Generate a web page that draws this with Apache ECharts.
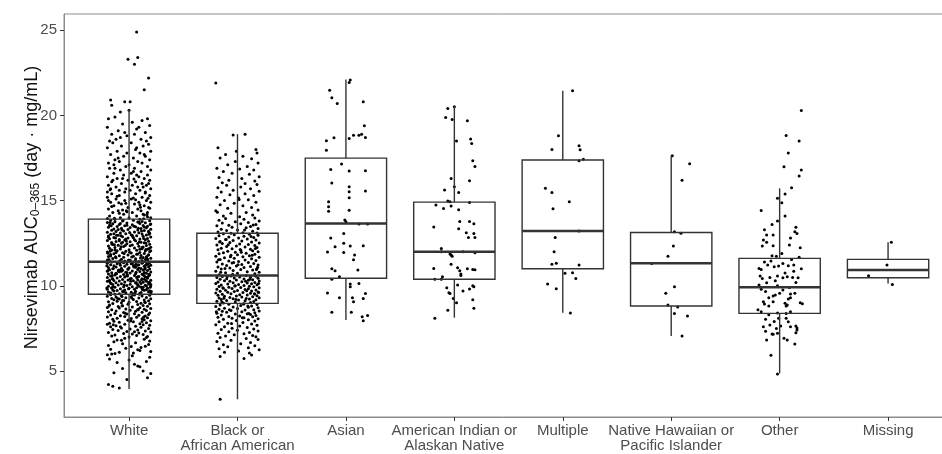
<!DOCTYPE html>
<html><head><meta charset="utf-8">
<script src="https://cdn.jsdelivr.net/npm/echarts@6/dist/echarts.min.js"></script>
<style>html,body{margin:0;padding:0;background:#fff}#c{width:942px;height:454px}</style>
</head><body><div id="c"></div>
<script>
const categories = ["White","Black or\nAfrican American","Asian","American Indian or\nAlaskan Native","Multiple","Native Hawaiian or\nPacific Islander","Other","Missing"];
const yTicks = [5,10,15,20,25];
// box statistics per category
const whiskerLow  = [3.94, 3.34, 7.99, 8.13, 8.42, 7.05, 4.86, 10.14];
const q1          = [9.50, 8.97, 10.44, 10.38, 11.00, 8.81, 8.38, 10.47];
const median      = [11.41, 10.61, 13.66, 12.00, 13.21, 11.32, 9.91, 10.92];
const q3          = [13.91, 13.08, 17.49, 14.91, 17.38, 13.13, 11.61, 11.55];
const whiskerHigh = [20.31, 18.90, 22.11, 20.54, 21.44, 17.63, 15.72, 12.55];

// jittered points: [horizontal jitter (category units), value]
const whitePts = [
[.07,24.9],[-.01,23.3],[.08,23.4],[.05,23.0],[.18,22.2],[.14,21.5],[-.17,20.9],[-.16,20.6],[-.04,20.8],[.01,20.8],[-.08,20.2],[0,20.3],
[-.19,19.8],[-.13,19.9],[.12,19.7],[.17,19.8],[-.06,19.5],[.03,19.6],[-.2,19.3],[.09,19.3],[.19,19.4],[-.1,19.1],[.15,19.0],[-.16,18.9],[.05,18.9],[-.02,18.8],[.2,18.7],[-.12,18.6],[.11,18.6],[-.18,18.5],[.07,19.2],[-.04,19.0],[.16,18.5],[-.08,18.7],
[-.15,18.4],[.02,18.4],[.18,18.3],[-.07,18.2],[.13,18.2],[-.2,18.1],[.06,18.0],[-.11,17.9],[.2,17.9],[-.02,17.8],[.1,17.8],[-.17,17.7],[.15,17.6],[-.05,17.6],[.04,17.5],[-.13,17.4],[.19,17.4],[-.09,17.3],[.08,17.3],[-.19,17.2],[.12,17.2],[0,17.1],[-.14,17.1],[.17,17.0],[-.03,17.0],[.07,18.1],[-.1,17.5],[.14,17.7],
[-.18,16.9],[.05,16.9],[.2,16.8],[-.08,16.8],[.11,16.7],[-.14,16.6],[.02,16.6],[.17,16.5],[-.05,16.5],[-.2,16.4],[.09,16.4],[-.11,16.3],[.14,16.3],[-.01,16.2],[.19,16.2],[-.16,16.1],[.06,16.1],[-.07,16.0],[.12,16.0],[-.19,15.9],[.03,15.9],[.16,15.9],[-.12,15.8],[.08,15.8],[-.03,15.7],[.2,15.7],[-.17,15.7],[.1,15.6],[-.09,15.6],[.15,15.5],[-.04,15.5],[-.2,15.5],[.04,16.7],[-.13,16.9],[.18,16.0],[-.06,16.3],[.13,15.8],[-.15,16.2],[.01,15.6],[.07,16.5],
[-.16,15.4],[.06,15.4],[.19,15.3],[-.09,15.3],[.12,15.2],[-.2,15.2],[.02,15.1],[-.12,15.1],[.16,15.0],[-.04,15.0],[.09,14.9],[-.17,14.9],[.2,14.9],[-.07,14.8],[.05,14.8],[.14,14.7],[-.14,14.7],[-.01,14.6],[.18,14.6],[-.19,14.5],[.08,14.5],[-.1,14.4],[.11,14.4],[.03,14.3],[-.15,14.3],[.17,14.3],[-.05,14.2],[.13,14.2],[-.18,14.1],[.07,14.1],[-.08,14.0],[.2,14.0],[0,14.0],[-.13,13.9],[.1,13.9],[-.2,13.95],[.15,15.45],[-.11,15.25],[.04,15.15],[-.03,14.85],[.19,14.55],[-.16,14.65],[.1,14.75],[-.06,14.45],[.14,14.15],[-.02,14.35],[.06,15.05],[-.19,15.0],[.17,14.05],[-.09,14.25],
[-.17,13.85],[.04,13.84],[.19,13.82],[-.06,13.8],[.12,13.78],[-.13,13.76],[.08,13.74],[-.2,13.72],[.15,13.7],[-.02,13.68],
[.1,13.66],[-.15,13.64],[.2,13.62],[-.09,13.6],[.03,13.58],[-.18,13.56],[.13,13.54],[-.04,13.52],[.17,13.5],[-.11,13.48],
[.06,13.46],[-.19,13.44],[.01,13.42],[.16,13.4],[-.07,13.38],[.11,13.36],[-.14,13.34],[.2,13.32],[-.01,13.3],[.08,13.28],
[-.16,13.26],[.14,13.24],[-.05,13.22],[.18,13.2],[-.12,13.18],[.05,13.16],[-.2,13.14],[.09,13.12],[-.08,13.1],[.19,13.08],
[-.03,13.06],[.12,13.04],[-.17,13.02],[.02,13.0],[.16,12.98],[-.1,12.96],[.07,12.94],[-.19,12.92],[.13,12.9],[-.06,12.88],
[.2,12.86],[-.14,12.84],[.04,12.82],[-.01,12.8],[.17,12.78],[-.18,12.76],[.1,12.74],[-.09,12.72],[.15,12.7],[-.04,12.68],
[-.2,12.66],[.06,12.64],[.18,12.62],[-.12,12.6],[.01,12.58],[.11,12.56],[-.16,12.54],[.14,12.52],[-.07,12.5],[.08,12.48],
[-.02,12.46],[.19,12.44],[-.15,12.42],[.03,12.4],[-.1,12.38],[.16,12.36],[-.19,12.34],[.09,12.32],[-.05,12.3],[.13,12.28],
[.2,12.26],[-.13,12.24],[.05,12.22],[-.18,12.2],[.12,12.18],[-.08,12.16],[.17,12.14],[0,12.12],[-.16,12.1],[.07,12.08],
[-.11,12.06],[.15,12.04],[-.03,12.02],[.19,12.0],[-.2,11.98],[.1,11.96],[-.06,11.94],[.02,11.92],[.14,11.9],[-.14,11.88],
[.08,11.86],[-.17,11.84],[.18,11.82],[-.01,11.8],[.11,11.78],[-.09,11.76],[.04,11.74],[-.19,11.72],[.16,11.7],[-.05,11.68],
[.13,11.66],[-.12,11.64],[.2,11.62],[-.15,11.6],[.06,11.58],[-.07,11.56],[.17,11.54],[-.2,11.52],[.01,11.5],[.12,11.48],
[-.04,11.46],[-.18,11.44],[.09,11.42],[.19,11.4],[-.1,13.3],[.05,12.7],[-.13,12.1],[.15,11.55],[-.08,13.65],[.03,12.95],
[.18,13.15],[-.16,12.45],[.07,11.85],[-.02,13.55],[.12,12.25],[-.19,12.85],[.16,11.65],[-.06,12.55],[.09,13.75],[-.12,11.95],
[.01,12.35],[.2,12.05],[-.14,13.05],[.06,11.45],[-.09,12.65],[.14,13.45],[-.17,11.75],[.1,12.15],[-.03,12.75],[.17,11.55],
[-.16,11.39],[.07,11.38],[.19,11.36],[-.05,11.35],[.12,11.33],[-.2,11.32],[.02,11.3],[-.11,11.29],[.16,11.27],[-.02,11.26],
[.09,11.24],[-.17,11.23],[.2,11.21],[-.08,11.2],[.04,11.18],[-.14,11.17],[.14,11.15],[-.04,11.14],[.18,11.12],[-.12,11.11],
[.06,11.09],[-.19,11.08],[0,11.06],[.15,11.05],[-.07,11.03],[.11,11.02],[-.15,11.0],[.19,10.99],[-.01,10.97],[.08,10.96],
[-.18,10.94],[.13,10.93],[-.06,10.91],[.17,10.9],[-.1,10.88],[.03,10.87],[-.2,10.85],[.1,10.84],[-.09,10.82],[.2,10.81],
[-.03,10.79],[.14,10.78],[-.16,10.76],[.01,10.75],[.16,10.73],[-.12,10.72],[.06,10.7],[-.19,10.69],[.12,10.67],[-.05,10.66],
[.19,10.64],[-.13,10.63],[.05,10.61],[-.02,10.6],[.18,10.58],[-.17,10.57],[.09,10.55],[-.08,10.54],[.15,10.52],[-.04,10.51],
[-.2,10.49],[.07,10.48],[.17,10.46],[-.11,10.45],[.02,10.43],[.12,10.42],[-.15,10.4],[.14,10.39],[-.06,10.37],[.08,10.36],
[-.01,10.34],[.2,10.33],[-.14,10.31],[.04,10.3],[-.09,10.28],[.16,10.27],[-.18,10.25],[.1,10.24],[-.04,10.22],[.13,10.21],
[.19,10.19],[-.12,10.18],[.06,10.16],[-.17,10.15],[.11,10.13],[-.07,10.12],[.18,10.1],[.01,10.09],[-.15,10.07],[.08,10.06],
[-.1,10.04],[.15,10.03],[-.02,10.01],[.2,10.0],[-.19,9.98],[.09,9.97],[-.05,9.95],[.03,9.94],[.13,9.92],[-.13,9.91],
[.07,9.89],[-.16,9.88],[.17,9.86],[0,9.85],[.12,9.83],[-.08,9.82],[.05,9.8],[-.2,9.79],[.16,9.77],[-.04,9.76],
[.14,9.74],[-.11,9.73],[.19,9.71],[-.14,9.7],[.06,9.68],[-.06,9.67],[.18,9.65],[-.19,9.64],[.02,9.62],[.11,9.61],
[-.03,9.59],[-.17,9.58],[.1,9.56],[.2,9.55],[-.09,9.53],[.04,9.52],[-.13,9.51],[.15,11.19],[-.07,10.86],[.08,10.53],
[.18,10.2],[-.16,9.87],[.03,11.31],[-.01,10.98],[.13,10.65],[-.18,10.32],[.16,9.99],[-.05,9.66],[.09,11.05],[-.12,10.74],
[.01,10.41],[.2,10.08],[-.15,9.75],[.06,11.25],[-.08,10.92],[.14,10.59],[-.2,10.26],[.11,9.93],[-.02,10.78],[.17,10.45],
[-.17,9.48],[.05,9.46],[.19,9.44],[-.07,9.42],[.12,9.4],[-.2,9.38],[.02,9.36],[-.12,9.34],[.16,9.32],[-.03,9.3],
[.09,9.28],[-.16,9.26],[.2,9.24],[-.09,9.22],[.04,9.2],[-.14,9.18],[.14,9.16],[-.05,9.14],[.18,9.12],[-.11,9.1],
[.07,9.08],[-.19,9.06],[0,9.04],[.15,9.02],[-.07,9.0],[.11,8.98],[-.15,8.96],[.19,8.94],[-.01,8.92],[.08,8.9],
[-.18,8.87],[.13,8.85],[-.06,8.83],[.17,8.8],[-.1,8.78],[.03,8.76],[-.2,8.73],[.1,8.71],[-.09,8.69],[.2,8.66],
[-.03,8.64],[.14,8.62],[-.16,8.59],[.01,8.57],[.16,8.55],[-.12,8.52],[.06,8.5],[-.19,8.48],[.12,8.45],[-.05,8.43],
[.19,8.41],[-.13,8.38],[.05,8.36],[-.02,8.34],[.18,8.31],[-.17,8.29],[.09,8.27],[-.08,8.24],[.15,8.22],[-.04,8.2],
[-.2,8.17],[.07,8.15],[.17,8.13],[-.11,8.1],[.02,8.08],[.12,8.06],[-.15,8.03],[.14,8.01],[-.06,9.13],[.08,8.61],
[-.01,7.98],[.2,7.95],[-.14,7.92],[.04,7.89],[-.09,7.86],[.16,7.83],[-.18,7.8],[.1,7.77],[-.04,7.74],[.13,7.71],
[.19,7.68],[-.12,7.65],[.06,7.62],[-.17,7.59],[.11,7.56],[-.07,7.53],[.18,7.5],[.01,7.47],[-.15,7.44],[.08,7.41],
[-.1,7.38],[.15,7.35],[-.02,7.32],[.2,7.29],[-.19,7.26],[.09,7.23],[-.05,7.2],[.03,7.17],[.13,7.14],[-.13,7.11],
[.07,7.08],[-.16,7.05],[.17,7.02],[0,7.0],[.12,7.9],[-.08,7.6],[.05,7.3],[-.2,7.75],
[.16,6.97],[-.04,6.92],[.14,6.87],[-.11,6.82],[.19,6.76],[-.14,6.71],[.06,6.66],[-.06,6.6],[.18,6.55],[-.19,6.5],
[.02,6.44],[.11,6.38],[-.03,6.33],[-.17,6.27],[.1,6.2],[.2,6.15],[-.09,6.1],[.04,6.05],[-.13,6.02],[.15,6.45],[-.07,6.8],[.08,6.25],
[-.19,4.2],[-.15,4.1],[-.09,4.0],[.17,4.6],[.08,5.3],[.1,5.25],[.05,5.4],[-.18,5.7],[-.14,4.9],[.19,5.8],[-.02,4.5],[.13,5.0],[-.11,5.5],[.03,5.9],[.16,5.55],[-.06,5.15],[-.2,5.95],[.2,4.85],[0,5.65],[-.16,6.0],
[.135,13.93],[-.175,13.71],[.045,13.49],[-.065,13.27],[.185,13.03],[-.125,12.81],[.095,12.59],[-.035,12.37],[.155,12.13],[-.195,11.91],
[.025,11.69],[-.085,11.47],[.175,11.27],[-.145,11.01],[.065,10.79],[-.015,10.57],[.115,10.35],[-.165,10.13],[.195,9.91],[-.055,9.69],
[.035,9.47],[-.105,9.25],[.145,9.03],[-.185,8.81],[.085,8.59],[-.025,14.41],[.165,14.19],[-.135,13.97],[.005,13.13],[-.075,12.29],
[.125,11.37],[-.155,10.43],[.055,9.59],[-.045,11.89],[.185,10.67],[-.115,12.97],[.075,10.11],[-.205,11.17],[.155,12.51],[-.005,9.83],
[-.095,10.93],[.105,11.63],[-.175,12.03],[.015,10.27],[.195,13.59],[-.065,9.37],[.135,12.77],[-.145,9.95],[.045,11.11],[-.025,12.63],
[.165,10.49],[-.185,11.55],[.085,13.37],[-.115,10.71],[.005,11.97],[.125,9.77],[-.055,13.83],[.175,11.79],[-.135,12.41],[.065,10.19],
[-.195,10.89],[.035,12.87],[.145,10.97],[-.085,11.33],[.095,9.51],[-.015,10.63],[.185,12.19],[-.165,13.53],[.055,11.43],[-.045,10.05],
[.115,13.21],[-.205,9.87],[.025,9.29],[-.125,11.71],[.155,10.31],[-.075,12.93],[.075,11.21],[.205,9.67],[-.155,10.61],[-.005,11.51],
[.105,14.61],[-.095,14.87],[.175,15.13],[-.175,15.63],[.045,16.27],[-.035,8.39],[.135,8.17],[-.145,7.71],[.015,7.93],[-.065,8.83]
];
const blackPts = [
[-.2,21.9],[-.04,18.85],[.07,18.9],[-.18,18.1],[.17,18.0],[.18,17.8],
[-.11,17.7],[.05,17.6],[-.16,17.5],[.13,17.45],[-.02,17.3],[.19,17.2],[-.09,17.1],[.09,17.0],[-.19,16.9],[.02,16.85],[.15,16.8],[-.13,16.7],[-.05,16.6],[.11,16.55],[.2,16.4],[-.17,16.35],[.04,16.3],[-.08,16.2],[.16,16.15],[-.14,16.05],[.07,16.0],[-.01,17.9],
[.18,15.95],[-.1,15.9],[.03,15.8],[-.18,15.75],[.12,15.7],[-.04,15.6],[.2,15.55],[-.15,15.5],[.07,15.4],[-.07,15.35],[.15,15.3],[-.19,15.2],[.01,15.15],[.1,15.05],[-.12,15.0],[.17,14.9],[-.03,14.85],[-.16,14.75],[.05,14.7],[.13,14.6],[-.09,14.55],[.19,14.45],[-.2,14.4],[.08,14.3],[-.06,14.25],[.14,14.15],[-.13,14.1],[.02,14.05],
[.16,13.98],[-.11,13.95],[.06,13.9],[-.17,13.85],[.2,13.8],[-.02,13.76],[.1,13.72],[-.14,13.68],[.03,13.64],[.17,13.6],[-.08,13.56],[-.19,13.52],[.12,13.48],[-.05,13.44],[.08,13.4],[.19,13.36],[-.15,13.32],[0,13.28],[-.1,13.24],[.14,13.2],[-.18,13.16],[.05,13.12],[.18,13.1],[-.06,13.09],
[-.13,13.05],[.11,13.02],[-.03,12.99],[.19,12.96],[-.17,12.93],[.06,12.9],[-.08,12.87],[.15,12.84],[.01,12.81],[-.2,12.78],
[.09,12.75],[-.11,12.72],[.17,12.69],[-.04,12.66],[.04,12.63],[-.16,12.6],[.13,12.57],[-.07,12.54],[.2,12.51],[-.14,12.48],
[.02,12.45],[.1,12.42],[-.19,12.39],[.16,12.36],[-.01,12.33],[-.1,12.3],[.07,12.27],[.18,12.24],[-.15,12.21],[-.05,12.18],
[.12,12.15],[-.18,12.12],[.03,12.09],[.14,12.06],[-.09,12.03],[.19,12.0],[-.02,11.97],[-.13,11.94],[.08,11.91],[-.17,11.88],
[.16,11.85],[0,11.82],[-.06,11.79],[.11,11.76],[-.2,11.73],[.05,11.7],[.2,11.67],[-.12,11.64],[-.03,11.61],[.13,11.58],
[-.16,11.55],[.07,11.52],[.17,11.49],[-.08,11.46],[.01,11.43],[-.19,11.4],[.1,11.37],[-.05,11.34],[.15,11.31],[-.14,11.28],
[.04,11.25],[.19,11.22],[-.1,11.19],[-.01,11.16],[.12,11.13],[-.18,11.1],[.06,11.07],[-.07,11.04],[.18,11.01],[-.15,10.98],
[.03,10.95],[.14,10.92],[-.04,10.89],[-.2,10.86],[.09,10.83],[.2,10.8],[-.11,10.77],[0,10.74],[.16,10.7],[-.17,10.65],
[.08,10.6],[-.06,10.58],[.17,10.56],[-.14,10.54],[.02,10.52],[.12,10.5],[-.19,10.48],[-.03,10.46],[.19,10.44],[-.1,10.42],
[.06,10.4],[-.16,10.38],[.14,10.36],[-.01,10.34],[.1,10.32],[-.12,10.3],[.2,10.28],[-.07,10.26],[.04,10.24],[-.18,10.22],
[.16,10.2],[-.04,10.18],[.09,10.16],[-.2,10.14],[.13,10.12],[-.09,10.1],[.01,10.08],[.18,10.06],[-.15,10.04],[.06,10.02],
[-.02,10.0],[.11,9.98],[-.17,9.96],[.15,9.94],[-.08,9.92],[.03,9.9],[.2,9.88],[-.13,9.86],[-.05,9.84],[.1,9.82],
[-.19,9.8],[.07,9.78],[.17,9.76],[-.11,9.74],[0,9.72],[.13,9.7],[-.16,9.68],[-.03,9.66],[.19,9.64],[-.09,9.62],
[.05,9.6],[-.2,9.58],[.12,9.56],[-.06,9.54],[.16,9.52],[-.14,9.5],[.02,9.48],[.09,9.46],[-.18,9.44],[.18,9.42],
[-.01,9.4],[-.12,9.38],[.14,9.36],[.04,9.34],[-.07,9.32],[.2,9.3],[-.17,9.28],[.08,9.26],[-.04,9.24],[.11,9.22],
[-.15,9.2],[.17,9.18],[.01,9.16],[-.1,9.14],[.07,9.12],[-.19,9.1],[.15,9.08],[-.02,9.05],[.12,9.02],[-.13,8.99],
[.06,8.95],[-.08,8.92],[.18,8.9],[-.16,8.87],[.03,8.84],[.13,8.82],[-.2,8.79],[-.04,8.76],[.1,8.74],[.19,8.71],
[-.12,8.68],[0,8.66],[-.17,8.63],[.15,8.6],[.07,8.58],[-.06,8.55],[.2,8.52],[-.14,8.5],[.04,8.47],[-.1,8.44],
[.16,8.42],[-.19,8.39],[.09,8.36],[-.02,8.34],[.12,8.31],[-.15,8.28],[.17,8.26],[.02,8.23],[-.08,8.2],[.14,8.18],
[-.18,8.15],[.06,8.12],[-.05,8.09],[.19,8.07],[-.13,8.04],[.1,8.01],
[-.01,7.97],[.16,7.93],[-.17,7.89],[.05,7.85],[-.09,7.8],[.13,7.76],[-.2,7.72],[.18,7.68],[.02,7.64],[-.12,7.6],
[.09,7.55],[-.05,7.51],[.15,7.47],[-.15,7.43],[0,7.39],[.19,7.35],[-.08,7.3],[.11,7.26],[-.18,7.22],[.06,7.18],
[-.03,7.13],[.14,7.09],[-.11,7.05],[.17,7.01],
[-.16,6.96],[.08,6.91],[.19,6.85],[-.06,6.8],[-.19,6.73],[.12,6.67],[.03,6.6],[-.13,6.54],[.16,6.48],[-.09,6.42],
[.1,6.36],[-.17,6.3],[.2,6.24],[.01,6.18],[-.12,6.1],[.11,6.06],
[.06,5.74],[.13,5.94],[-.16,5.85],[-.16,3.34],
[.125,12.89],[-.085,12.41],[.035,11.97],[-.175,11.53],[.185,11.09],[-.045,10.67],[.075,10.27],[-.135,9.89],[.155,9.53],[-.015,9.19],
[.095,8.81],[-.195,8.47],[.045,8.13],[-.105,12.71],[.165,12.19],[-.065,11.71],[.005,11.23],[-.155,10.79],[.115,10.39],[-.025,9.99],
[.195,9.61],[-.125,9.27],[.055,8.93],[-.075,8.59],[.145,13.57],[-.185,14.31],[.015,15.07],[.175,10.95],[-.035,11.37],[-.165,12.57],
[.085,9.71],[.135,11.79],[-.095,10.53],[.025,12.13],[-.145,9.05],[.105,8.37],[-.055,7.79],[.065,13.27],[-.115,11.01],[.195,10.13]
];
const asianPts = [
[.04,22.07],[.03,21.93],[-.15,21.48],[-.13,21.03],[-.08,20.7],[.16,20.8],[.17,19.39],[.18,18.7],[.145,18.9],[.12,18.84],[.07,18.84],[.03,18.65],[-.11,18.69],[-.18,18.51],[-.18,17.96],[-.04,17.14],[-.14,16.83],[.03,16.73],[.18,16.75],[-.13,16.03],[.03,15.81],[.03,15.52],[.03,15.17],[.18,15.56],[-.16,14.93],[-.16,14.64],[-.16,14.38],[.03,14.44],[-.01,13.86],[0,13.76],[.12,13.62],[.2,13.62],[-.02,13.07],[-.14,12.8],[-.1,12.29],[-.02,12.49],[.04,12.33],[.16,12.35],[-.17,11.98],[-.02,11.96],[.08,11.8],[.07,11.53],[.11,10.92],[-.13,11.0],[-.1,10.88],[-.06,10.53],[-.13,10.38],[.04,10.1],[.04,9.95],[.12,10.14],[-.17,9.57],[-.06,9.3],[.06,9.3],[.07,9.07],[.18,9.55],[.16,9.26],[-.13,8.44],[.05,8.44],[.15,8.19],[.2,8.26],[.16,7.95]
];
const amIndPts = [
[0,20.5],[-.06,20.41],[-.08,19.88],[-.02,19.76],[.12,19.68],[.02,18.49],[.15,18.61],[.16,18.35],[.17,17.34],[.19,17.0],[-.03,16.3],[.14,16.16],[0,15.81],[-.09,15.62],[.04,15.48],[-.06,14.97],[-.04,14.93],[-.17,14.74],[-.1,14.54],[-.03,14.68],[.04,14.46],[.14,14.89],[-.19,13.45],[.05,13.78],[.14,13.78],[.18,13.64],[.04,13.35],[.11,13.11],[.13,12.84],[.18,13.07],[.19,12.84],[-.12,12.19],[-.12,12.0],[-.04,11.86],[-.03,11.8],[-.02,11.74],[.08,12.0],[.19,11.94],[-.03,11.26],[-.19,11.02],[.03,11.06],[.05,10.88],[.06,10.69],[.06,10.61],[.12,11.0],[.17,10.96],[.19,10.94],[-.11,10.53],[-.12,10.38],[-.18,10.38],[.03,10.04],[-.07,9.89],[-.05,9.59],[-.04,9.55],[.08,9.69],[.14,9.81],[.17,10.0],[.18,9.95],[-.01,9.26],[.02,9.01],[.17,9.18],[.18,8.68],[-.06,8.56],[-.18,8.09]
];
const multiplePts = [
[.09,21.44],[-.04,18.8],[-.1,18.0],[.15,18.22],[.16,17.98],[.15,17.34],[.19,17.43],[-.16,15.73],[-.1,15.48],[.06,14.93],[-.09,14.52],[.15,13.21],[-.07,12.84],[-.08,12.0],[-.1,11.26],[-.06,11.33],[.15,11.22],[.02,10.73],[.09,10.77],[.12,10.43],[-.14,10.1],[-.06,9.83],[.07,8.4]
];
const nhpiPts = [
[.01,17.63],[.17,17.16],[.1,16.2],[.03,13.17],[.09,13.09],[.02,12.33],[-.03,11.74],[-.18,11.31],[.03,9.95],[-.05,9.56],[-.03,8.87],[.06,8.75],[.03,8.38],[.15,8.23],[.1,7.05]
];
const otherPts = [
[.2,20.29],[.06,18.82],[.18,18.49],[.08,17.79],[.04,16.98],[.2,16.79],[.18,16.44],[.11,15.75],[.05,15.38],[-.02,15.13],[.02,14.87],[-.17,14.42],[-.02,13.8],[.15,13.43],[.16,13.07],[.14,13.17],[-.14,13.29],[-.12,12.98],[-.06,12.98],[-.15,12.68],[-.16,12.33],[-.06,12.35],[.09,12.39],[.19,12.23],[-.07,11.76],[-.03,11.74],[.18,11.67],[-.11,11.22],[-.05,11.12],[-.01,11.16],[.03,11.31],[-.19,11.02],[-.17,10.96],[.08,11.18],[.13,11.22],[.2,11.0],[-.18,10.57],[-.16,10.43],[-.12,10.18],[-.09,10.49],[-.02,10.57],[.03,10.47],[.07,10.53],[.12,10.49],[.17,10.47],[-.17,9.79],[-.13,9.67],[-.06,9.4],[-.04,9.46],[0,9.56],[.03,9.75],[.08,9.22],[.1,9.52],[.14,9.56],[.19,9.01],[.21,8.95],[-.15,9.07],[-.14,8.93],[-.1,8.81],[-.06,9.07],[.05,8.97],[.06,8.81],[.07,8.87],[.1,9.3],[-.2,8.6],[-.17,8.48],[-.1,8.3],[-.02,8.4],[.06,8.38],[.1,8.48],[-.13,8.03],[-.09,7.7],[-.05,7.91],[-.01,8.09],[.01,7.64],[.06,8.09],[.08,7.89],[.1,7.6],[.15,7.64],[.16,7.4],[-.15,7.6],[-.13,7.33],[-.07,7.17],[-.12,6.82],[-.06,7.15],[-.03,7.5],[-.02,7.21],[.04,6.92],[.07,6.82],[.14,6.58],[.15,7.25],[.16,7.52],[-.08,5.92],[-.02,4.82],
[-.08,11.45],[.11,11.55],[-.14,11.4],[.05,10.75],[-.04,10.3],[.15,10.2],[-.19,10.05],[.09,9.9],[-.1,9.3],[.13,10.85],[-.02,10.0],[.02,11.9],[-.12,12.55],[.1,12.8],[-.07,13.6],[.05,14.1]
];
const missingPts = [[.03,12.55],[-.01,11.22],[-.18,10.59],[.04,10.08]];

const groups = [whitePts, blackPts, asianPts, amIndPts, multiplePts, nhpiPts, otherPts, missingPts];

const FONT = '"Liberation Sans", Arial, sans-serif';
const GRID_LEFT = 64, GRID_TOP = 14, GRID_W = 908, GRID_H = 403;
const X_MIN = -0.6, PX_PER_CAT = 108.43;
const X_MAX = X_MIN + GRID_W / PX_PER_CAT;

const scatterData = [];
groups.forEach((g, i) => g.forEach(p => scatterData.push([i + p[0], p[1]])));
const boxData = categories.map((c, i) => [i, whiskerLow[i], q1[i], median[i], q3[i], whiskerHigh[i]]);

const chart = echarts.init(document.getElementById('c'), null, {renderer: 'canvas'});
const STROKE = '#333333';
chart.setOption({
  animation: false,
  backgroundColor: '#ffffff',
  grid: {left: GRID_LEFT, top: GRID_TOP, width: GRID_W, height: GRID_H, containLabel: false, outerBoundsMode: 'none',
         show: true, borderColor: '#8c8c8c', borderWidth: 1, backgroundColor: 'transparent'},
  xAxis: {
    type: 'value', min: X_MIN, max: X_MAX,
    splitLine: {show: false},
    axisLine: {show: true, onZero: false, lineStyle: {color: '#8c8c8c', width: 1}},
    axisTick: {show: true, customValues: categories.map((c, i) => i), length: 4, lineStyle: {color: '#333', width: 1}},
    axisLabel: {customValues: categories.map((c, i) => i), formatter: v => categories[Math.round(v)] || '',
      color: '#4d4d4d', fontSize: 15, lineHeight: 15, margin: 6, fontFamily: FONT}
  },
  yAxis: {
    type: 'value', min: 2.3, max: 25.95,
    splitLine: {show: false},
    axisLine: {show: true, onZero: false, lineStyle: {color: '#8c8c8c', width: 1}},
    axisTick: {show: true, customValues: yTicks, length: 4, lineStyle: {color: '#333', width: 1}},
    axisLabel: {customValues: yTicks, color: '#4d4d4d', fontSize: 15, margin: 7, fontFamily: FONT},
    name: '{t|Nirsevimab AUC}{s|0–365}{t| (day · mg/mL)}',
    nameLocation: 'middle', nameGap: 22, nameRotate: 90, nameMoveOverlap: false,
    nameTextStyle: {fontFamily: FONT, color: '#111', padding: [0, 0, 0, 16],
      rich: {t: {fontSize: 18, color: '#111', fontFamily: FONT},
             s: {fontSize: 12, color: '#111', fontFamily: FONT, padding: [8, 0, 0, 0]}}}
  },
  series: [
    {type: 'scatter', data: scatterData, symbol: 'circle', symbolSize: 3, silent: true, z: 2,
     itemStyle: {color: '#000', opacity: 1}},
    {type: 'custom', data: boxData, z: 3, silent: true,
     encode: {x: 0, y: [1, 2, 3, 4, 5]},
     renderItem: function (params, api) {
       const i = api.value(0), hw = 0.375;
       const lo = api.coord([i, api.value(1)]);
       const a = api.coord([i - hw, api.value(2)]);
       const m1 = api.coord([i - hw, api.value(3)]);
       const m2 = api.coord([i + hw, api.value(3)]);
       const b = api.coord([i + hw, api.value(4)]);
       const hi = api.coord([i, api.value(5)]);
       const ls = {stroke: STROKE, lineWidth: 1.4, fill: 'none'};
       return {type: 'group', children: [
         {type: 'line', shape: {x1: hi[0], y1: hi[1], x2: hi[0], y2: b[1]}, style: ls},
         {type: 'line', shape: {x1: lo[0], y1: a[1], x2: lo[0], y2: lo[1]}, style: ls},
         {type: 'rect', shape: {x: a[0], y: b[1], width: b[0] - a[0], height: a[1] - b[1]}, style: ls},
         {type: 'line', shape: {x1: m1[0], y1: m1[1], x2: m2[0], y2: m2[1]}, style: {stroke: STROKE, lineWidth: 2.5}}
       ]};
     }}
  ]
});
</script></body></html>
